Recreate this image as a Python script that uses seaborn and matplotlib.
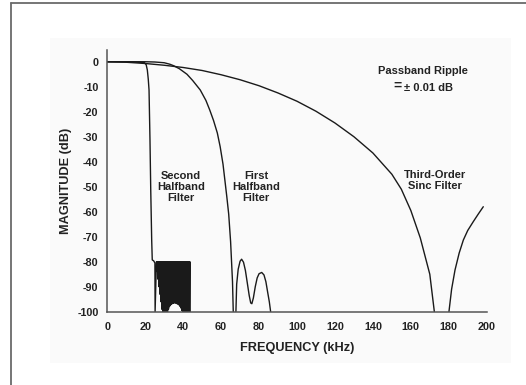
import numpy as np
import pandas as pd
import matplotlib
matplotlib.use("Agg")
import matplotlib.pyplot as plt
from matplotlib.lines import Line2D
from matplotlib.patches import Rectangle
import seaborn as sns

# ---------------- data ----------------
# Third-order sinc filter (main lobe, then second lobe after null)
sinc_f1 = [0, 10, 20, 30, 40, 50, 60, 70, 80, 90, 100, 110, 120, 130, 140,
           150, 155, 160, 165, 170, 172.4]
sinc_db1 = [0, -0.2, -0.7, -1.4, -2.3, -3.5, -5.2, -7.2, -9.6, -12.5, -15.8,
            -19.8, -24.5, -30.0, -36.5, -45.0, -51.0, -59.5, -70.5, -85.0, -100]
sinc_f2 = [180.1, 181.5, 183.3, 185.5, 187.7, 190.0, 192.9, 195.5, 198.2]
sinc_db2 = [-100, -91, -83.3, -76.5, -71.3, -67.5, -64.0, -61.0, -58.0]

# First halfband filter (passband/transition, then two stopband lobes)
hb1_f1 = [0, 10, 20, 25, 30, 33, 35, 38, 42, 45, 49, 52, 54, 56, 58, 59.5,
          61, 62, 63, 64, 65, 66, 66.4]
hb1_db1 = [0, 0, 0, -0.1, -0.4, -1.0, -1.6, -2.8, -5.0, -7.5, -11.3, -15.5,
           -19.3, -23.5, -28.5, -34.0, -41.0, -47.5, -54.0, -61.0, -72.0,
           -88.0, -100]
hb1_f2 = [67.8, 68.2, 69.0, 70.0, 70.8, 71.8, 72.8, 73.8, 74.8, 75.6, 76.2,
          77.0, 78.0, 79.0, 80.0, 81.4, 82.6, 83.6, 84.6, 85.4, 86.1]
hb1_db2 = [-100, -89, -83, -79.8, -79.0, -80.2, -83.5, -88.5, -93.5, -96.5,
           -96.8, -94.5, -90.0, -86.5, -84.8, -84.3, -85.3, -88.0, -92.5,
           -96.0, -100]

# Second halfband filter (passband/transition to the first stopband null)
hb2_f1 = [0, 10, 19.5, 20.5, 21.1, 21.6, 22.0, 22.5, 22.9, 23.4, 23.7, 24.4,
          25.1, 25.2, 25.9]
hb2_db1 = [0, 0, -0.3, -1.2, -3.3, -7.0, -11.3, -31.3, -51.3, -71.3, -79.3,
           -79.6, -80.5, -100, -80.0]
# Dense stopband ripple: alternating peaks and nulls
hb2_f2 = [26.00, 26.25, 26.50, 26.75, 27.00, 27.25, 27.50, 27.75, 28.00, 28.25,
          28.50, 28.75, 29.00, 29.25, 29.50, 29.75, 30.00, 30.25, 30.50, 30.75,
          31.00, 31.25, 31.50, 31.75, 32.00, 32.25, 32.50, 32.75, 33.00, 33.25,
          33.50, 33.75, 34.00, 34.25, 34.50, 34.75, 35.00, 35.25, 35.50, 35.75,
          36.00, 36.25, 36.50, 36.75, 37.00, 37.25, 37.50, 37.75, 38.00, 38.25,
          38.50, 38.75, 39.00, 39.25, 39.50, 39.75, 40.00, 40.25, 40.50, 40.75,
          41.00, 41.25, 41.50, 41.75, 42.00, 42.25, 42.50, 42.75, 43.00, 43.25,
          43.50, 43.65]
hb2_db2 = [-80, -84, -80, -87, -80, -90, -80, -93, -80, -96, -80, -99,
           -80, -100, -80, -100, -80, -100, -80, -100, -80, -100, -80, -100,
           -80, -99, -80, -98, -80, -97.5, -80, -97, -80, -96.8, -80, -96.6,
           -80, -96.5, -80, -96.5, -80, -96.6, -80, -96.8, -80, -97, -80, -97.3,
           -80, -97.8, -80, -98.5, -80, -99.5, -80, -100, -80, -100, -80, -100,
           -80, -100, -80, -100, -80, -100, -80, -100, -80, -100, -80, -100]

x_ticks = [0, 20, 40, 60, 80, 100, 120, 140, 160, 180, 200]
y_ticks = [0, -10, -20, -30, -40, -50, -60, -70, -80, -90, -100]
y_tick_labels = ["0", "-10", "-20", "-30", "-40", "-50", "-60", "-70",
                 "-80", "-90", "-100"]

# ---------------- build long table ----------------
segments = [
    ("sinc", 1, sinc_f1, sinc_db1), ("sinc", 2, sinc_f2, sinc_db2),
    ("hb1", 1, hb1_f1, hb1_db1), ("hb1", 2, hb1_f2, hb1_db2),
    ("hb2", 1, hb2_f1, hb2_db1), ("hb2", 2, hb2_f2, hb2_db2),
]
rows = []
for name, k, fs, ds in segments:
    for f, d in zip(fs, ds):
        rows.append({"freq": f, "db": d, "seg": f"{name}-{k}", "filt": name})
df = pd.DataFrame(rows)

# ---------------- figure ----------------
sns.set_style("white")
plt.rcParams["font.family"] = ["Liberation Sans", "DejaVu Sans"]
plt.rcParams["font.weight"] = "bold"

fig = plt.figure(figsize=(5.26, 3.85), dpi=100)
fig.patch.set_facecolor("white")

# faint grey panel behind the chart
fig.add_artist(Rectangle((50 / 526, 1 - 363 / 385), 461 / 526, 325 / 385,
                         transform=fig.transFigure, facecolor="#fafafa",
                         edgecolor="none", zorder=0))
# outer frame (left and top only visible)
fig.add_artist(Line2D([11 / 526, 11 / 526], [0, 1 - 3 / 385],
                      transform=fig.transFigure, color="#6a6a6a", lw=1.3))
fig.add_artist(Line2D([11 / 526, 1], [1 - 3 / 385, 1 - 3 / 385],
                      transform=fig.transFigure, color="#6a6a6a", lw=1.3))

ax = fig.add_axes([107.3 / 526, 1 - 311.7 / 385, 379.4 / 526, 261.7 / 385])
ax.set_facecolor("none")

sns.lineplot(data=df, x="freq", y="db", units="seg", estimator=None,
             sort=False, color="#1a1a1a", lw=1.0, ax=ax, legend=False)

ax.set_xlim(0, 200)
ax.set_ylim(-100, 4.7)
ax.set_xticks(x_ticks)
ax.set_xticklabels([str(t) for t in x_ticks])
ax.set_yticks(y_ticks)
ax.set_yticklabels(y_tick_labels)

for side in ["top", "right"]:
    ax.spines[side].set_visible(False)
for side in ["left", "bottom"]:
    ax.spines[side].set_color("#555555")
    ax.spines[side].set_linewidth(1.1)

ax.tick_params(axis="both", which="major", labelsize=7.8, colors="#222222",
               length=3, width=0.8, direction="out")
ax.tick_params(axis="y", pad=3.3)
ax.tick_params(axis="x", pad=4.5)
for lab in ax.get_xticklabels() + ax.get_yticklabels():
    lab.set_fontweight("bold")

ax.set_xlabel("FREQUENCY (kHz)", fontsize=9.2, fontweight="bold",
              color="#222222", labelpad=7)
ax.set_ylabel("MAGNITUDE (dB)", fontsize=9.2, fontweight="bold",
              color="#222222", labelpad=4)

txt_kw = dict(ha="center", va="center", fontsize=8, fontweight="bold",
              color="#222222", linespacing=1.15)
ax.text(39, -50.2, "Second\nHalfband\nFilter", **txt_kw)
ax.text(78.4, -50.2, "First\nHalfband\nFilter", **txt_kw)
ax.text(172.5, -47.5, "Third-Order\nSinc Filter", **txt_kw)
ax.text(166.5, -3.9, "Passband Ripple", **txt_kw)
ax.text(153.2, -9.4, "=", ha="center", va="center", fontsize=10,
        fontweight="bold", color="#222222")
ax.text(169.5, -10.6, "\u00b1 0.01 dB", **txt_kw)

fig.savefig("out.png", dpi=100, facecolor="white")
